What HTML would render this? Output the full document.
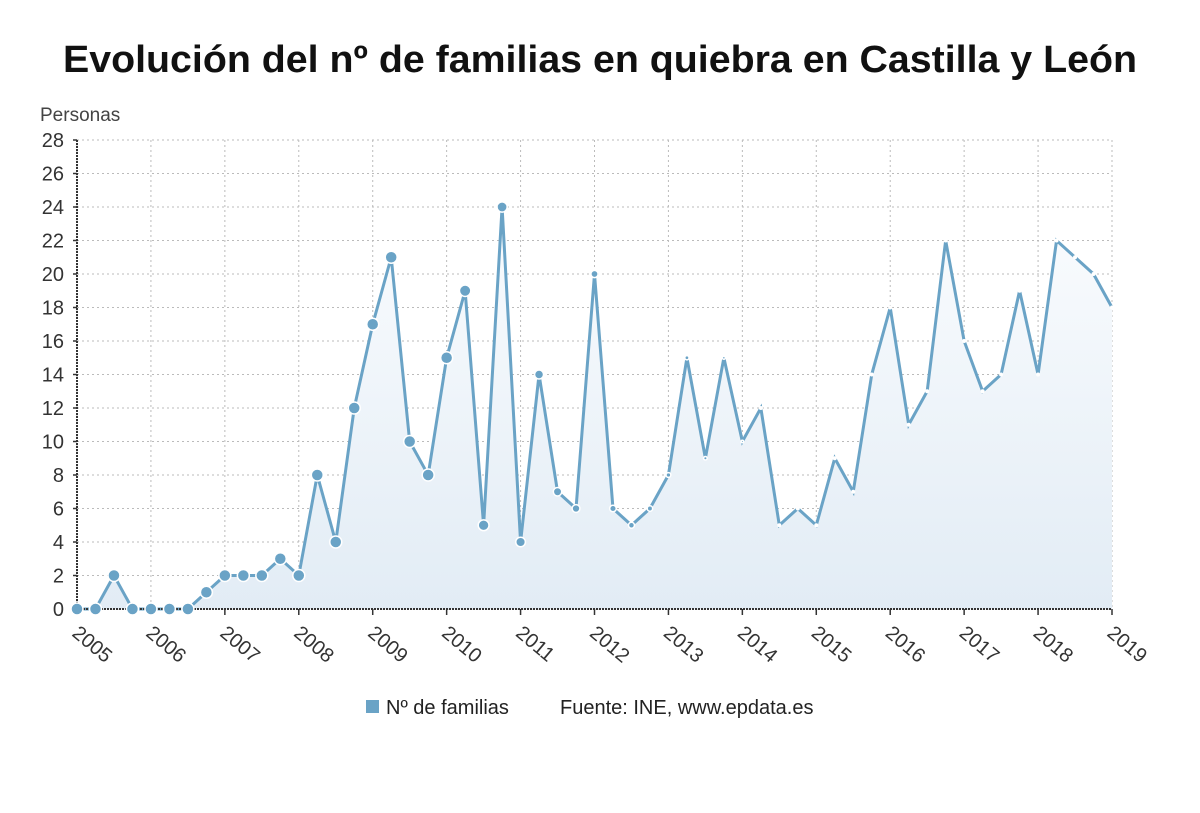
<!DOCTYPE html>
<html><head><meta charset="utf-8"><style>
body{margin:0;background:#fff;font-family:"Liberation Sans",sans-serif}
</style></head><body>
<svg width="1200" height="808" viewBox="0 0 1200 808">
<defs><linearGradient id="g" x1="0" y1="0" x2="0" y2="1"><stop offset="0" stop-color="#fafcfe"/><stop offset="1" stop-color="#e2ecf5"/></linearGradient></defs>
<text x="600" y="72" text-anchor="middle" font-size="38" font-weight="bold" fill="#111" textLength="1074" lengthAdjust="spacingAndGlyphs">Evolución del nº de familias en quiebra en Castilla y León</text>
<text x="40" y="121" font-size="19" fill="#444">Personas</text>
<g id="grid"></g><g id="area"></g><g id="line"></g><g id="axes"></g><g id="marks"></g>
<rect x="366" y="700" width="13" height="13" fill="#6aa3c6"/>
<text x="386" y="714" font-size="20" fill="#222">Nº de familias</text>
<text x="560" y="714" font-size="20" fill="#222">Fuente: INE, www.epdata.es</text>
</svg>
<script>
const years=["2005","2006","2007","2008","2009","2010","2011","2012","2013","2014","2015","2016","2017","2018","2019"];
const yTicks=[0,2,4,6,8,10,12,14,16,18,20,22,24,26,28];
const values=[0,0,2,0, 0,0,0,1, 2,2,2,3, 2,8,4,12, 17,21,10,8, 15,19,5,24, 4,14,7,6, 20,6,5,6, 8,15,9,15, 10,12,5,6, 5,9,7,14, 18,11,13,22, 16,13,14,19, 14,22,21,20, 18];
const X0=77,X1=1112,Y0=609,Y1=140;
const NS="http://www.w3.org/2000/svg";
function xq(i){return X0+(X1-X0)*i/56;}
function yv(v){return Y0-(Y0-Y1)*v/28;}
function mk(t,a,p){const e=document.createElementNS(NS,t);for(const k in a)e.setAttribute(k,a[k]);document.getElementById(p).appendChild(e);return e;}
yTicks.forEach(v=>{const y=yv(v);
 const l=mk('line',{x1:X0,x2:X1,y1:y,y2:y,stroke:'#bbb','stroke-dasharray':'2,3'},'grid');
 
 
 const t=mk('text',{x:64,y:y+7,'text-anchor':'end','font-size':20,fill:'#333'},'axes');t.textContent=v;
 
 
 mk('line',{x1:X0-4,x2:X0,y1:y,y2:y,stroke:'#333','stroke-width':1.5},'axes');
});
years.forEach((yr,k)=>{const x=xq(k*4);
 const l=mk('line',{x1:x,x2:x,y1:Y1,y2:Y0,stroke:'#bbb','stroke-dasharray':'2,3'},'grid');
 
 
 mk('line',{x1:x,x2:x,y1:Y0,y2:Y0+6,stroke:'#333','stroke-width':1.5},'axes');
 const t=mk('text',{x:x-6,y:Y0+26,'font-size':20,fill:'#333',transform:`rotate(40 ${x-6} ${Y0+26})`},'axes');t.textContent=yr;
 
 
});
let pts=values.map((v,i)=>xq(i)+','+yv(v));
const ar=mk('polygon',{points:xq(0)+','+Y0+' '+pts.join(' ')+' '+xq(56)+','+Y0,fill:'url(#g)'},'area');


const ln=mk('polyline',{points:pts.join(' '),fill:'none',stroke:'#6aa3c6','stroke-width':3,'stroke-linejoin':'miter'},'line');


mk('line',{x1:X0,x2:X0,y1:Y1,y2:Y0,stroke:'#333','stroke-width':2,'stroke-dasharray':'2,1'},'axes');
mk('line',{x1:X0,x2:X1,y1:Y0,y2:Y0,stroke:'#333','stroke-width':2,'stroke-dasharray':'2,1'},'axes');
values.forEach((v,i)=>{const r=i<20?6:Math.max(0,6-(i-20)*0.3);if(r<1){
 const c=mk('circle',{cx:xq(i),cy:yv(v),r:2,fill:'#fff'},'marks');return;}
 const c=mk('circle',{cx:xq(i),cy:yv(v),r:r,fill:'#6aa3c6',stroke:'#fff','stroke-width':1.5},'marks');
 
 
});
</script>
</body></html>
